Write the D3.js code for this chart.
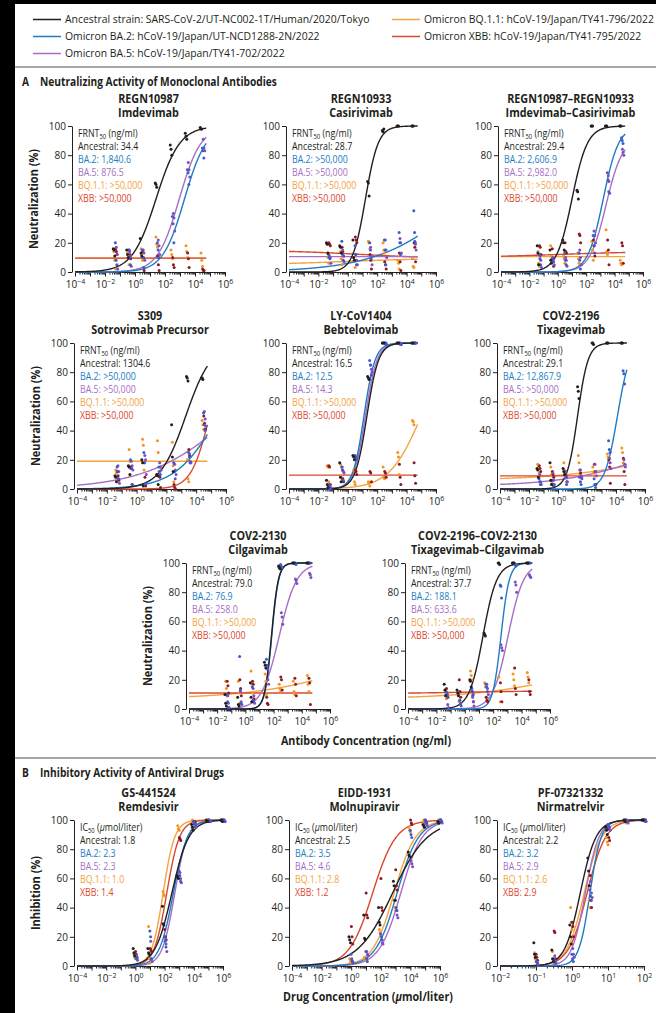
<!DOCTYPE html>
<html>
<head>
<meta charset="utf-8">
<script src="https://d3js.org/d3.v7.min.js"></script>
<style>
  body { margin: 0; background: #fff; }
  svg text { font-family: "Open Sans", sans-serif; fill: #231f20; }
  .ptitle { font-size: 12px; font-weight: bold; text-anchor: middle; }
  .section { font-size: 12px; font-weight: bold; }
  .axlabel { font-size: 12.5px; font-weight: bold; text-anchor: middle; }
  .note { font-size: 10.5px; }
  .legend { font-size: 10.4px; }
  .axis text { font-size: 10px; font-family: "Open Sans", sans-serif; fill: #231f20; }
  .axis path, .axis line { stroke: #231f20; stroke-width: 1; }
</style>
</head>
<body>
<svg id="chart" width="656" height="1013"></svg>
<script>
const variantNames = ["Ancestral", "BA.2", "BA.5", "BQ.1.1", "XBB"];
const legendLabels = [
  "Ancestral strain: SARS-CoV-2/UT-NC002-1T/Human/2020/Tokyo",
  "Omicron BA.2: hCoV-19/Japan/UT-NCD1288-2N/2022",
  "Omicron BA.5: hCoV-19/Japan/TY41-702/2022",
  "Omicron BQ.1.1: hCoV-19/Japan/TY41-796/2022",
  "Omicron XBB: hCoV-19/Japan/TY41-795/2022"
];
const lineColors = ["#231f20", "#1d7dc4", "#a66fc4", "#f4a340", "#d9472f"];
const dotColors = ["#231f20", "#3b5bcf", "#7b4fc0", "#f7931e", "#8b1a22"];

// log10 of the concentrations tested
const concMab = [-1.3, -0.4, 0.5, 1.5, 2.5, 3.5, 4.5];
const concRemdesivir = [0, 1, 2, 3, 4, 5, 6];
const concMolnupiravir = [0, 1, 2, 3, 4, 5, 6];
const concNirmatrelvir = [-1, -0.5, 0, 0.5, 1, 1.5, 2];

// fits: [bottom, top, log10 EC50, hill] for ancestral, BA.2, BA.5, BQ.1.1, XBB
const imdevimabFits = [[0,100,1.4,0.55],[0,100,3.3,0.6],[0,100,2.95,0.6],[9.5,9.5,0,1],[9.5,9.5,0,1]];
const imdevimabLabels = ["34.4", "1,840.6", "876.5", ">50,000", ">50,000"];
const imdevimabDots = [
  [[16,15,11],[15,12,10],[23,13,11],[61,60,58],[87,84,80],[95,93,91],[99,98,98]],
  [[20,8,5],[15,10,5],[15,10,3],[20,15,10],[38,33,20],[70,68,60],[85,83,78]],
  [[17,12,2],[14,11,4],[15,13,8],[22,18,12],[40,37,28],[75,70,65],[91,85,83]],
  [[14,8,2],[13,10,5],[16,12,8],[24,19,17],[15,12,9],[18,14,10],[13,8,4]],
  [[16,14,12],[15,12,9],[14,10,1],[11,5,1],[10,5,3],[13,9,3],[2,1,1]]
];

const casirivimabFits = [[0,100,1.2,1.0],[0,100,8,0.15],[10.5,10.5,0,1],[5,9.5,0,0.15],[15,9,1,0.15]];
const casirivimabLabels = ["28.7", ">50,000", ">50,000", ">50,000", ">50,000"];
const casirivimabDots = [
  [[20,19,13],[18,17,13],[22,10,8],[62,61,52],[97,96,98],[100,100,100],[100,100,100]],
  [[12,10,9],[21,12,8],[18,12,5],[20,15,9],[22,15,5],[27,20,12],[42,27,20]],
  [[11,10,6],[15,11,7],[12,8,5],[17,11,5],[22,15,10],[23,20,13],[21,19,15]],
  [[13,10,6],[14,9,5],[10,8,3],[21,20,16],[20,15,13],[8,6,2],[9,4,3]],
  [[20,19,18],[17,14,11],[24,22,20],[12,8,2],[7,5,2],[13,7,1],[20,17,7]]
];

const imdCasFits = [[0,100,1.0,0.8],[0,100,3.2,0.8],[0,92,3.4,0.75],[10.5,10.5,0,1],[10,14,0,0.15]];
const imdCasLabels = ["29.4", "2,606.9", "2,982.0", ">50,000", ">50,000"];
const imdCasDots = [
  [[18,13,5],[15,8,6],[22,20,15],[56,55,50],[100,100,100],[100,100,100],[100,100,100]],
  [[12,9,5],[9,8,7],[13,8,5],[13,8,2],[25,18,13],[68,63,55],[92,90,88]],
  [[11,8,3],[10,7,5],[10,8,4],[15,10,5],[28,25,20],[66,62,54],[84,82,80]],
  [[14,6,4],[18,11,8],[11,9,6],[13,9,6],[21,15,8],[29,14,12],[8,6,5]],
  [[18,17,12],[16,9,4],[20,14,13],[26,25,20],[22,18,11],[22,15,5],[20,18,6]]
];

const sotrovimabFits = [[0,100,3.3,0.5],[0,100,5.5,0.3],[0,100,6.5,0.15],[19,19,0,1],[0,100,4.9,0.7]];
const sotrovimabLabels = ["1304.6", ">50,000", ">50,000", ">50,000", ">50,000"];
const sotrovimabDots = [
  [[9,8,5],[16,15,10],[20,18,2],[10,9,3],[44,22,12],[77,76,74],[76,76,75]],
  [[15,12,7],[20,14,3],[25,18,4],[15,12,10],[18,12,7],[25,22,18],[52,44,40]],
  [[16,12,4],[19,16,13],[23,20,10],[18,15,13],[17,13,10],[24,19,18],[53,48,43]],
  [[13,11,8],[27,19,14],[34,30,13],[33,25,12],[32,16,5],[20,7,5],[47,44,41]],
  [[12,9,6],[15,14,3],[18,8,2],[9,8,1],[3,1,0],[27,23,18],[50,45,41]]
];

const bebtelovimabFits = [[0,100,1.3,1.1],[0,100,1.1,1.15],[0,100,1.2,1.1],[0,100,5,0.4],[9.5,9.5,0,1]];
const bebtelovimabLabels = ["16.5", "12.5", "14.3", ">50,000", ">50,000"];
const bebtelovimabDots = [
  [[6,3,1],[18,8,5],[23,22,20],[77,76,75],[100,100,100],[100,100,100],[100,100,100]],
  [[2,1,0],[15,13,6],[23,22,21],[88,85,78],[100,100,99],[100,100,99],[100,100,100]],
  [[3,1,1],[13,12,11],[22,21,20],[85,82,80],[100,100,99],[100,99,99],[100,100,100]],
  [[16,15,5],[17,9,7],[13,5,3],[5,4,2],[15,8,7],[25,22,10],[47,46,44]],
  [[16,15,3],[15,7,5],[13,12,10],[12,11,5],[12,11,8],[17,8,3],[18,9,4]]
];

const tixagevimabFits = [[0,100,1.35,1.2],[0,100,4.1,1.0],[2,40,6,0.15],[6,40,8,0.12],[9,9,0,1]];
const tixagevimabLabels = ["29.1", "12,867.9", ">50,000", ">50,000", ">50,000"];
const tixagevimabDots = [
  [[14,13,8],[18,6,3],[14,12,10],[70,67,62],[100,100,99],[100,100,100],[100,100,100]],
  [[7,5,3],[6,3,2],[10,8,3],[8,5,3],[7,3,1],[33,27,25],[81,79,72]],
  [[10,5,3],[11,6,3],[12,8,5],[13,9,7],[17,12,9],[21,18,14],[20,17,15]],
  [[17,15,11],[15,10,4],[18,13,8],[23,18,10],[15,11,9],[24,22,20],[28,25,18]],
  [[16,14,12],[12,10,8],[11,9,5],[13,11,8],[17,12,3],[20,15,4],[21,12,3]]
];

const cilgavimabFits = [[0,100,1.85,1.8],[0,100,1.87,1.8],[0,100,2.4,0.7],[7,50,8,0.12],[11,11,0,1]];
const cilgavimabLabels = ["79.0", "76.9", "258.0", ">50,000", ">50,000"];
const cilgavimabDots = [
  [[10,4,2],[8,3,2],[18,8,5],[32,30,28],[98,97,96],[100,100,100],[100,100,100]],
  [[10,5,1],[36,13,4],[15,6,5],[34,30,27],[99,98,97],[100,100,99],[100,100,100]],
  [[9,4,1],[12,5,3],[14,9,4],[28,20,17],[66,63,58],[89,88,86],[93,92,90]],
  [[19,14,9],[19,11,4],[26,17,11],[24,19,10],[17,14,12],[19,12,10],[23,17,12]],
  [[19,16,11],[20,14,9],[19,17,7],[8,4,3],[22,20,13],[21,17,9],[21,18,3]]
];

const tixCilFits = [[0,100,1.28,0.9],[0,100,2.55,1.5],[0,100,3.05,0.8],[7,40,8,0.12],[10.5,12.5,0,0.15]];
const tixCilLabels = ["37.7", "188.1", "633.6", ">50,000", ">50,000"];
const tixCilDots = [
  [[17,13,9],[13,11,9],[20,19,15],[52,51,50],[100,100,99],[100,100,100],[100,100,100]],
  [[12,10,8],[11,6,3],[14,12,10],[17,15,12],[85,84,76],[100,99,98],[100,100,100]],
  [[10,3,1],[6,4,2],[8,5,2],[17,14,10],[44,42,40],[87,85,80],[92,91,90]],
  [[13,10,7],[12,10,5],[26,23,20],[18,15,8],[22,12,5],[24,20,16],[25,22,18]],
  [[14,10,8],[20,12,8],[12,9,5],[8,6,5],[18,12,5],[28,14,10],[20,12,10]]
];

const remdesivirFits = [[0,100,2.5,0.75],[0,100,2.6,0.9],[0,100,2.7,1.0],[0,100,1.9,1.1],[0,100,2.15,1.0]];
const remdesivirLabels = ["1.8", "2.3", "2.3", "1.0", "1.4"];
const remdesivirDots = [
  [[12,9,7],[12,9,8],[41,29,28],[62,61,60],[97,95,93],[100,99,99],[100,100,99]],
  [[8,6,5],[24,20,5],[20,17,13],[65,62,58],[99,98,97],[100,100,99],[100,99,99]],
  [[7,5,4],[17,5,3],[18,15,10],[64,60,57],[97,96,95],[100,99,99],[100,100,99]],
  [[8,6,5],[27,5,2],[51,49,48],[96,94,93],[100,99,99],[100,100,99],[100,100,100]],
  [[10,8,6],[12,11,10],[25,20,18],[88,87,86],[99,99,98],[100,99,99],[100,100,99]]
];

const molnupiravirFits = [[0,100,2.8,0.37],[0,100,3.1,0.6],[0,100,3.35,0.6],[0,100,2.9,0.6],[0,100,1.45,0.55]];
const molnupiravirLabels = ["2.5", "3.5", "4.6", "2.8", "1.2"];
const molnupiravirDots = [
  [[20,18,16],[35,19,18],[40,30,28],[58,55,45],[78,76,75],[97,96,95],[99,98,98]],
  [[8,5,3],[10,5,3],[22,20,18],[45,40,38],[93,90,88],[100,99,98],[100,100,99]],
  [[4,2,2],[10,8,7],[18,16,15],[38,35,33],[72,70,68],[98,97,96],[100,99,98]],
  [[5,3,2],[6,5,4],[25,23,22],[45,40,38],[95,93,92],[100,99,98],[100,99,99]],
  [[27,20,15],[50,35,33],[60,40,38],[66,55,52],[100,98,97],[100,99,98],[100,100,99]]
];

const nirmatrelvirFits = [[0,100,0.23,2.0],[0,100,0.5,2.8],[0,100,0.37,2.3],[0,100,0.34,1.8],[0,100,0.42,1.7]];
const nirmatrelvirLabels = ["2.2", "3.2", "2.9", "2.6", "2.9"];
const nirmatrelvirDots = [
  [[16,8,6],[11,5,3],[28,20,15],[74,65,55],[95,93,90],[100,100,99],[100,100,100]],
  [[6,3,2],[5,3,2],[8,5,3],[52,48,45],[97,96,95],[100,99,99],[100,100,99]],
  [[3,2,1],[7,3,2],[12,8,6],[58,50,47],[97,95,93],[100,99,98],[100,100,99]],
  [[9,5,3],[10,3,2],[40,30,25],[55,45,40],[88,85,83],[100,99,98],[100,100,100]],
  [[8,6,4],[24,23,5],[30,27,20],[62,45,40],[94,88,86],[100,99,99],[100,100,100]]
];

const yTicks = [0, 20, 40, 60, 80, 100];
const varOffset = [-0.1, 0.04, 0.1, -0.05, 0.06];
const repOffset = [-0.05, 0, 0.05];

const mab = {domain: [1e-4, 1e6], conc: concMab, curve: [-4, 4.75], every: 2, kind: "FRNT", ylabel: "Neutralization (%)"};
const drug = {domain: [1e-4, 1e6], curve: [-4, 6], every: 2, kind: "IC", ylabel: "Inhibition (%)"};

const panels = [
  {...mab, title: ["REGN10987", "Imdevimab"], left: 72, top: 126, width: 153, fits: imdevimabFits, labels: imdevimabLabels, dots: imdevimabDots, ytitle: true},
  {...mab, title: ["REGN10933", "Casirivimab"], left: 286, top: 126, width: 150, fits: casirivimabFits, labels: casirivimabLabels, dots: casirivimabDots},
  {...mab, title: ["REGN10987\u2013REGN10933", "Imdevimab\u2013Casirivimab"], left: 498, top: 126, width: 145, fits: imdCasFits, labels: imdCasLabels, dots: imdCasDots},
  {...mab, title: ["S309", "Sotrovimab Precursor"], left: 74, top: 343, width: 152, fits: sotrovimabFits, labels: sotrovimabLabels, dots: sotrovimabDots, ytitle: true},
  {...mab, title: ["LY-CoV1404", "Bebtelovimab"], left: 286, top: 343, width: 150, fits: bebtelovimabFits, labels: bebtelovimabLabels, dots: bebtelovimabDots},
  {...mab, title: ["COV2-2196", "Tixagevimab"], left: 497, top: 343, width: 148, fits: tixagevimabFits, labels: tixagevimabLabels, dots: tixagevimabDots},
  {...mab, title: ["COV2-2130", "Cilgavimab"], left: 186, top: 563, width: 144, fits: cilgavimabFits, labels: cilgavimabLabels, dots: cilgavimabDots, ytitle: true},
  {...mab, title: ["COV2-2196\u2013COV2-2130", "Tixagevimab\u2013Cilgavimab"], left: 405, top: 563, width: 145, fits: tixCilFits, labels: tixCilLabels, dots: tixCilDots},
  {...drug, title: ["GS-441524", "Remdesivir"], left: 74, top: 820, width: 149, conc: concRemdesivir, fits: remdesivirFits, labels: remdesivirLabels, dots: remdesivirDots, ytitle: true},
  {...drug, title: ["EIDD-1931", "Molnupiravir"], left: 289, top: 820, width: 151, conc: concMolnupiravir, fits: molnupiravirFits, labels: molnupiravirLabels, dots: molnupiravirDots},
  {...drug, title: ["PF-07321332", "Nirmatrelvir"], left: 497, top: 820, width: 147, domain: [1e-2, 1e2], curve: [-2, 2], every: 1, conc: concNirmatrelvir, fits: nirmatrelvirFits, labels: nirmatrelvirLabels, dots: nirmatrelvirDots}
];

const svg = d3.select("#chart");

// text squeezed sideways, the figure uses a semi-condensed face
const addText = function(parent, x, y, cls, sx, rot) {
  return parent.append("text").attr("class", cls)
    .attr("transform", `translate(${x},${y})${rot ? " rotate(" + rot + ")" : ""} scale(${sx},1)`);
};

// frame
svg.append("rect").attr("x", 0).attr("y", 0).attr("width", 15).attr("height", 1013).attr("fill", "#000");
svg.append("rect").attr("x", 0).attr("y", 0).attr("width", 656).attr("height", 4).attr("fill", "#000");
[67, 758].forEach(yy => {
  svg.append("line").attr("x1", 15).attr("x2", 656).attr("y1", yy).attr("y2", yy)
    .attr("stroke", "#8a8a8a").attr("stroke-width", 1.5);
});

// legend
legendLabels.forEach((lab, i) => {
  const col = i < 3 ? 0 : 1;
  const row = i < 3 ? i : i - 3;
  const lx = col === 0 ? 33 : 392;
  const ly = 19.5 + row * 17;
  svg.append("line").attr("x1", lx).attr("x2", lx + 28).attr("y1", ly).attr("y2", ly)
    .attr("stroke", lineColors[i]).attr("stroke-width", 1.5);
  svg.append("text").attr("class", "legend").attr("x", lx + 32).attr("y", ly + 3.8).text(lab);
});

addText(svg, 22, 86, "section", 0.85).text("A");
addText(svg, 40, 86, "section", 0.85).text("Neutralizing Activity of Monoclonal Antibodies");
addText(svg, 22, 777, "section", 0.85).text("B");
addText(svg, 40, 777, "section", 0.85).text("Inhibitory Activity of Antiviral Drugs");

addText(svg, 366, 745, "axlabel", 0.86).text("Antibody Concentration (ng/ml)");
const dl = addText(svg, 368, 1001, "axlabel", 0.86);
dl.append("tspan").text("Drug Concentration (");
dl.append("tspan").attr("font-style", "italic").text("\u03bc");
dl.append("tspan").text("mol/liter)");

const drawPanel = function(p) {
  const g = svg.append("g");
  const x = d3.scaleLog().domain(p.domain).range([p.left + 3, p.left + p.width]);
  const y = d3.scaleLinear().domain([0, 100]).range([p.top + 146, p.top]);
  const cx = (p.left + p.left + p.width) / 2;

  addText(g, cx, p.top - 23, "ptitle", 0.9).text(p.title[0]);
  addText(g, cx, p.top - 9, "ptitle", 0.9).text(p.title[1]);

  if (p.ytitle) {
    addText(g, p.left - 34, p.top + 73, "axlabel", 0.88, -90).text(p.ylabel);
  }

  // y axis
  g.append("g").attr("class", "axis").attr("transform", `translate(${p.left},0)`)
    .call(d3.axisLeft(y).tickValues(yTicks).tickSize(4).tickSizeOuter(0).tickPadding(2));

  // x axis, log with minor ticks
  const lo = Math.round(Math.log10(p.domain[0]));
  const hi = Math.round(Math.log10(p.domain[1]));
  const minor = [];
  for (let k = lo; k < hi; k++) {
    for (let m = 2; m < 10; m++) minor.push(m * Math.pow(10, k));
  }
  g.append("g").attr("class", "axis").attr("transform", `translate(0,${y(0)})`)
    .call(d3.axisBottom(x).tickValues(minor).tickSize(2.5).tickSizeOuter(0).tickFormat(""));
  const major = d3.range(lo, hi + 1).map(k => Math.pow(10, k));
  const xa = g.append("g").attr("class", "axis").attr("transform", `translate(0,${y(0)})`)
    .call(d3.axisBottom(x).tickValues(major).tickSize(4.5).tickSizeOuter(0).tickPadding(4).tickFormat(""));
  xa.selectAll(".tick text").each(function(d) {
    const e = Math.round(Math.log10(d));
    if ((e - lo) % p.every !== 0) return;
    const t = d3.select(this);
    t.text("10");
    t.append("tspan").attr("dy", "-0.45em").attr("font-size", "7px")
      .text(e < 0 ? "\u2212" + (-e) : String(e));
  });

  // fitted curves
  const fit = (f, lx) => f[0] + (f[1] - f[0]) / (1 + Math.pow(10, (f[2] - lx) * f[3]));
  const grid = d3.range(p.curve[0], p.curve[1] + 0.001, 0.05);
  const order = [3, 4, 2, 1, 0];
  order.forEach(v => {
    const line = d3.line().x(lx => x(Math.pow(10, lx))).y(lx => y(fit(p.fits[v], lx)));
    g.append("path").attr("d", line(grid)).attr("fill", "none")
      .attr("stroke", lineColors[v]).attr("stroke-width", 1.4);
  });

  // replicate points
  const k = p.every === 1 ? 0.4 : 1;
  order.forEach(v => {
    const pts = [];
    p.dots[v].forEach((reps, i) => {
      reps.forEach((val, j) => pts.push({lx: p.conc[i] + (varOffset[v] + repOffset[j]) * k, val: val}));
    });
    g.selectAll(null).data(pts).join("circle")
      .attr("cx", d => x(Math.pow(10, d.lx)))
      .attr("cy", d => y(d.val))
      .attr("r", 1.5)
      .attr("fill", dotColors[v]);
  });

  // annotation
  const tx = p.left + 6;
  const head = addText(g, tx, p.top + 10.5, "note", 0.84);
  head.append("tspan").text(p.kind);
  head.append("tspan").attr("dy", 2).attr("font-size", "7px").text("50");
  if (p.kind === "FRNT") {
    head.append("tspan").attr("dy", -2).text(" (ng/ml)");
  } else {
    head.append("tspan").attr("dy", -2).text(" (");
    head.append("tspan").attr("font-style", "italic").text("\u03bc");
    head.append("tspan").text("mol/liter)");
  }
  variantNames.forEach((nm, i) => {
    addText(g, tx, p.top + 24 + 13 * i, "note", 0.84)
      .style("fill", i === 0 ? "#231f20" : lineColors[i])
      .text(nm + ": " + p.labels[i]);
  });
};

panels.forEach(drawPanel);
</script>
</body>
</html>
